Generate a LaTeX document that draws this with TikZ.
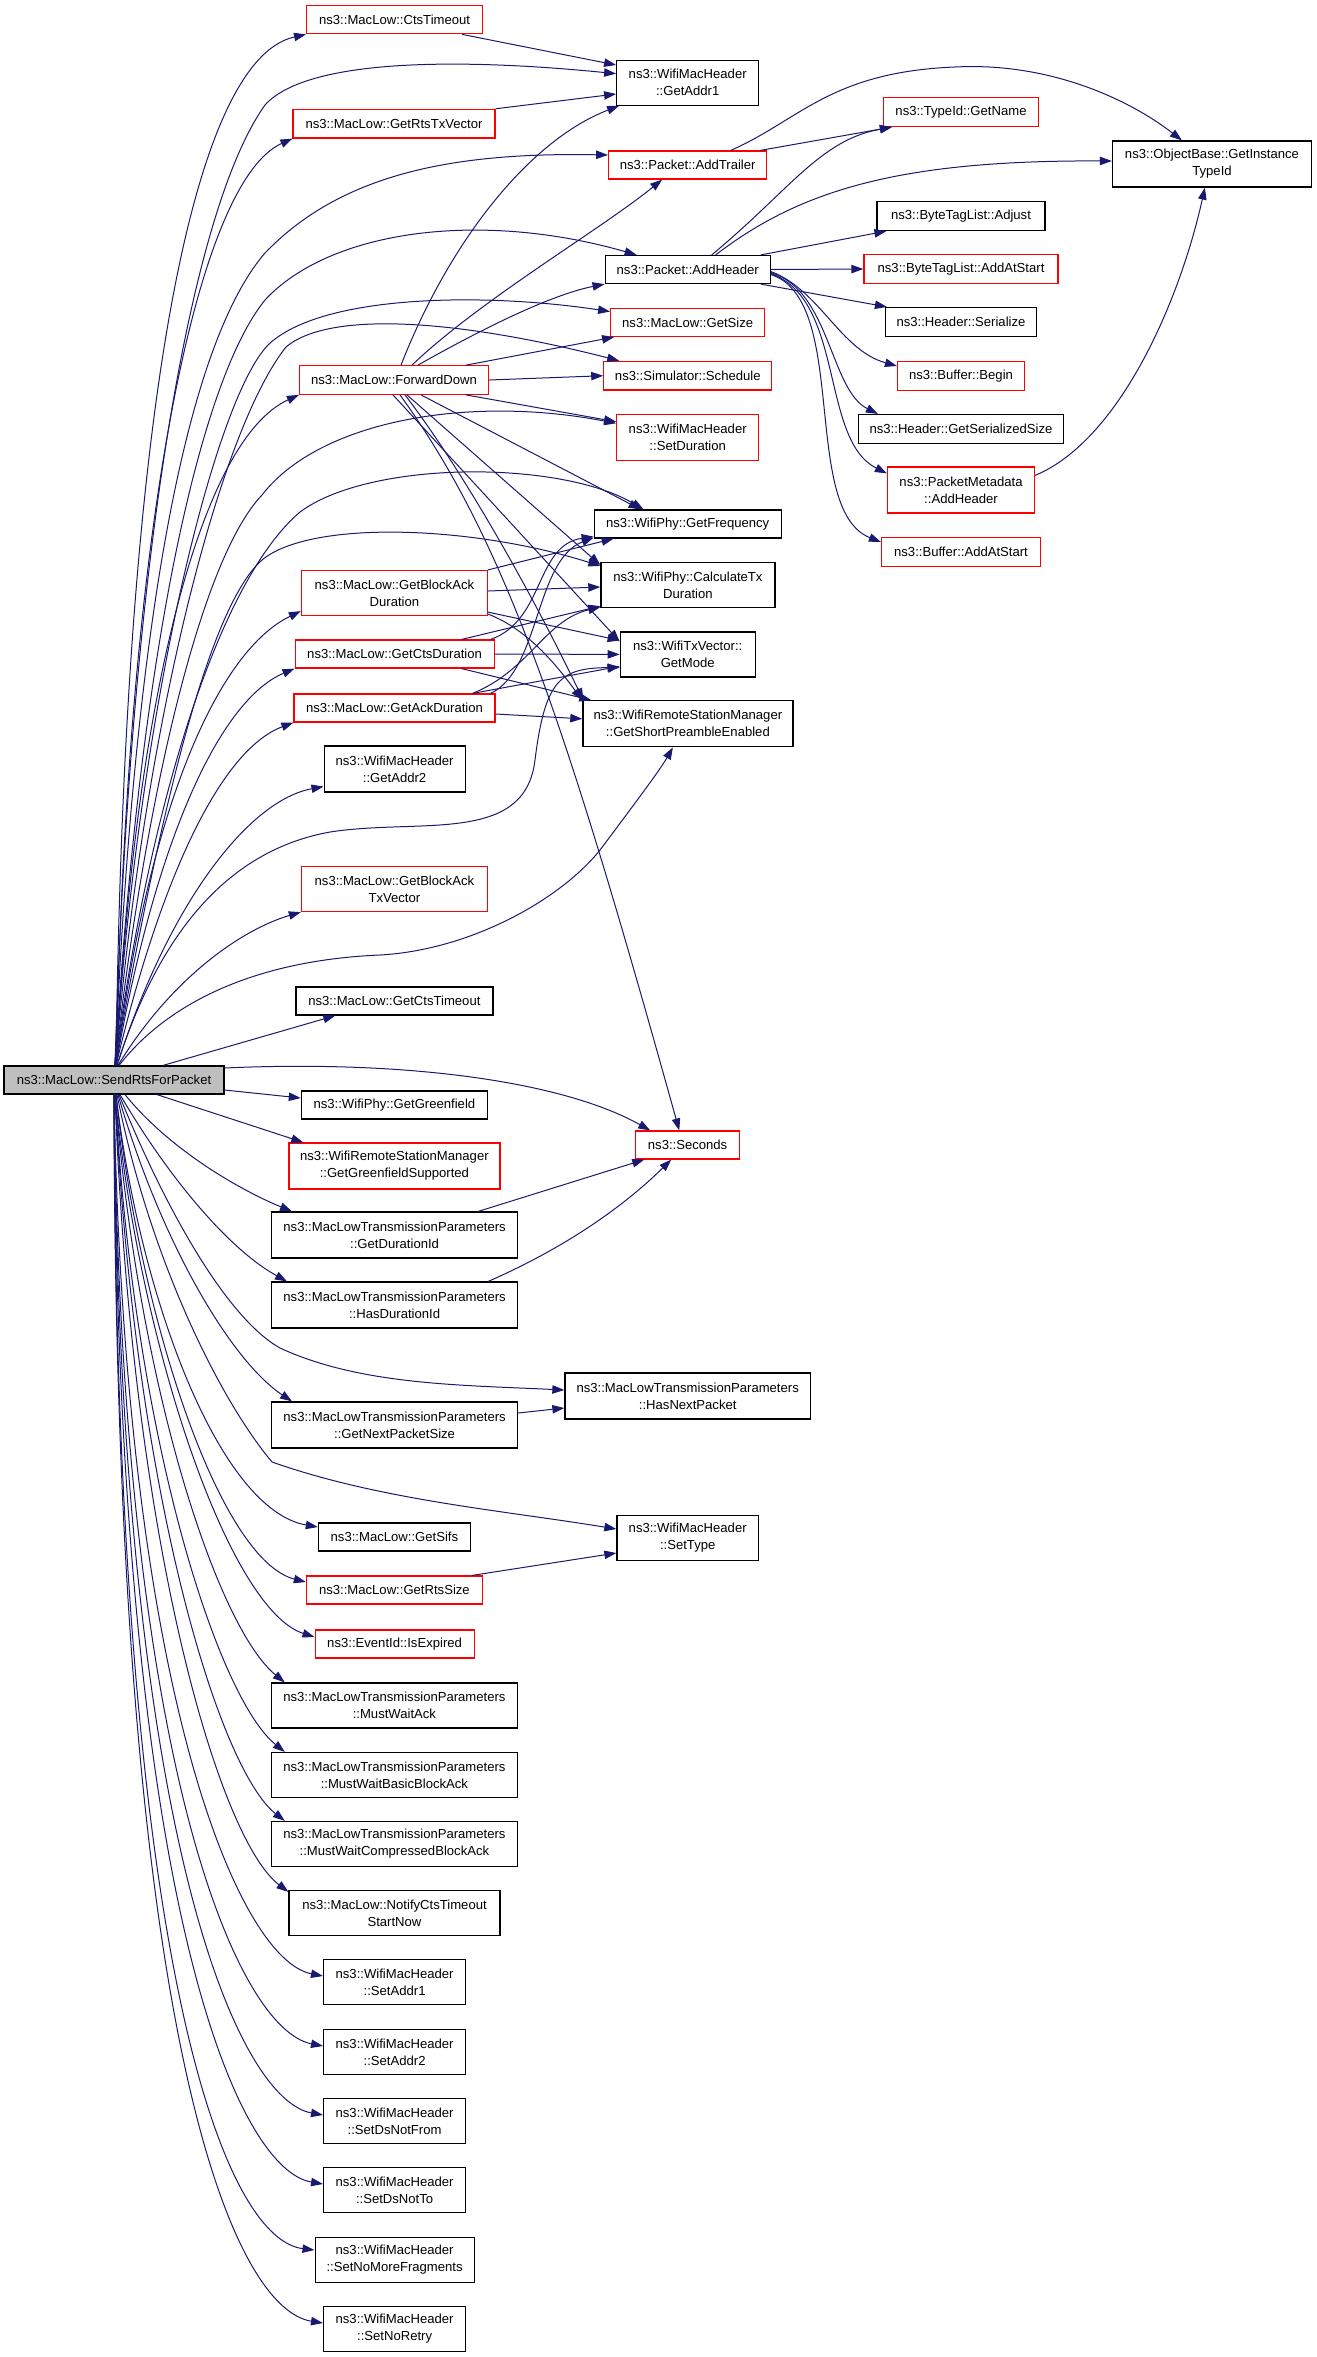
\documentclass[tikz,border=0pt]{standalone}
\usepackage{fontspec}
\setmainfont{Liberation Sans}
\usetikzlibrary{arrows.meta,calc}
\definecolor{edgeblue}{HTML}{191970}
\definecolor{rootgray}{HTML}{BFBFBF}
\begin{document}
\begin{tikzpicture}[x=0.5pt,y=-0.5pt,
  box/.style={draw=black,line width=0.6pt,fill=white,inner sep=0pt,align=center,font=\fontsize{6.55pt}{8.5pt}\selectfont},
  rbox/.style={box,draw=red},
  sz/.style 2 args={minimum width={#1*0.5pt},minimum height={#2*0.5pt}},
  edge/.style={draw=edgeblue,line width=0.5pt,-{Triangle[length=6pt,width=4.2pt]}}]
\useasboundingbox (0,0) rectangle (1317,2357);
% ---- root
\node[box,fill=rootgray,sz={220}{28}] (R) at (114,1080) {ns3::MacLow::SendRtsForPacket};
% ---- column 2
\node[rbox,sz={176}{28}] (ctsto) at (394.6,19.8) {ns3::MacLow::CtsTimeout};
\node[rbox,sz={202}{28.7}] (rtstx) at (394,123.7) {ns3::MacLow::GetRtsTxVector};
\node[rbox,sz={189}{28.6}] (fwd) at (394,380) {ns3::MacLow::ForwardDown};
\node[rbox,sz={186}{45}] (baDur) at (394.4,593) {ns3::MacLow::GetBlockAck\\Duration};
\node[rbox,sz={199}{28}] (ctsDur) at (394.6,654) {ns3::MacLow::GetCtsDuration};
\node[rbox,sz={201}{28}] (ackDur) at (394.5,708) {ns3::MacLow::GetAckDuration};
\node[box,sz={141}{46}] (addr2) at (394.6,769) {ns3::WifiMacHeader\\::GetAddr2};
\node[rbox,sz={186}{45}] (baTx) at (394.4,889) {ns3::MacLow::GetBlockAck\\TxVector};
\node[box,sz={197}{28}] (ctsTo2) at (394.4,1001) {ns3::MacLow::GetCtsTimeout};
\node[box,sz={186}{28}] (green) at (394.4,1105) {ns3::WifiPhy::GetGreenfield};
\node[rbox,sz={211}{46}] (greenSup) at (394.4,1166) {ns3::WifiRemoteStationManager\\::GetGreenfieldSupported};
\node[box,sz={246}{46}] (durId) at (394.6,1235) {ns3::MacLowTransmissionParameters\\::GetDurationId};
\node[box,sz={246}{46}] (hasDur) at (394.6,1305) {ns3::MacLowTransmissionParameters\\::HasDurationId};
\node[box,sz={246}{46}] (nextSize) at (394.6,1425) {ns3::MacLowTransmissionParameters\\::GetNextPacketSize};
\node[box,sz={152}{28}] (sifs) at (394.4,1537) {ns3::MacLow::GetSifs};
\node[rbox,sz={176}{28}] (rtsSize) at (394.4,1590) {ns3::MacLow::GetRtsSize};
\node[rbox,sz={159}{28}] (expired) at (394.6,1644) {ns3::EventId::IsExpired};
\node[box,sz={246}{45}] (mwAck) at (394.4,1705.5) {ns3::MacLowTransmissionParameters\\::MustWaitAck};
\node[box,sz={246}{45}] (mwBasic) at (394.4,1775) {ns3::MacLowTransmissionParameters\\::MustWaitBasicBlockAck};
\node[box,sz={246}{45}] (mwComp) at (394.4,1844) {ns3::MacLowTransmissionParameters\\::MustWaitCompressedBlockAck};
\node[box,sz={211}{45}] (notify) at (394.5,1913) {ns3::MacLow::NotifyCtsTimeout\\StartNow};
\node[box,sz={142}{45}] (setA1) at (394.6,1982) {ns3::WifiMacHeader\\::SetAddr1};
\node[box,sz={142}{45}] (setA2) at (394.6,2052) {ns3::WifiMacHeader\\::SetAddr2};
\node[box,sz={142}{45}] (setDsFrom) at (394.6,2121) {ns3::WifiMacHeader\\::SetDsNotFrom};
\node[box,sz={142}{45}] (setDsTo) at (394.6,2190) {ns3::WifiMacHeader\\::SetDsNotTo};
\node[box,sz={159}{45}] (setNoMore) at (394.6,2260) {ns3::WifiMacHeader\\::SetNoMoreFragments};
\node[box,sz={142}{45}] (setNoRetry) at (394.6,2329) {ns3::WifiMacHeader\\::SetNoRetry};
% ---- column 3
\node[box,sz={142}{45}] (getAddr1) at (687.7,82.7) {ns3::WifiMacHeader\\::GetAddr1};
\node[rbox,sz={158}{28}] (addTrailer) at (687.7,165) {ns3::Packet::AddTrailer};
\node[box,sz={165}{28}] (addHeader) at (687.7,269.5) {ns3::Packet::AddHeader};
\node[rbox,sz={154}{28}] (getSize) at (687.7,322.5) {ns3::MacLow::GetSize};
\node[rbox,sz={168}{28.7}] (schedule) at (687.8,375.7) {ns3::Simulator::Schedule};
\node[rbox,sz={142}{46}] (setDur) at (687.7,437.3) {ns3::WifiMacHeader\\::SetDuration};
\node[box,sz={187}{28}] (getFreq) at (687.7,524) {ns3::WifiPhy::GetFrequency};
\node[box,sz={174}{45}] (calcTx) at (687.9,585) {ns3::WifiPhy::CalculateTx\\Duration};
\node[box,sz={135}{45}] (getMode) at (687.7,654.4) {ns3::WifiTxVector::\\GetMode};
\node[box,sz={210}{46}] (shortPre) at (687.9,723.8) {ns3::WifiRemoteStationManager\\::GetShortPreambleEnabled};
\node[rbox,sz={103.5}{28}] (seconds) at (687.6,1145) {ns3::Seconds};
\node[box,sz={245.5}{46}] (hasNext) at (687.7,1396) {ns3::MacLowTransmissionParameters\\::HasNextPacket};
\node[box,sz={141.5}{45.5}] (setType) at (687.7,1538) {ns3::WifiMacHeader\\::SetType};
% ---- column 4
\node[rbox,sz={155}{29}] (getName) at (961,112) {ns3::TypeId::GetName};
\node[box,sz={168}{29}] (adjust) at (961,216) {ns3::ByteTagList::Adjust};
\node[rbox,sz={194}{29}] (bAddAtStart) at (961,269) {ns3::ByteTagList::AddAtStart};
\node[box,sz={151}{29}] (serialize) at (961,322) {ns3::Header::Serialize};
\node[rbox,sz={127}{29}] (begin) at (961,376) {ns3::Buffer::Begin};
\node[box,sz={205}{29}] (gss) at (961,429) {ns3::Header::GetSerializedSize};
\node[rbox,sz={147}{46}] (pmAdd) at (961,490) {ns3::PacketMetadata\\::AddHeader};
\node[rbox,sz={159}{29}] (bufAdd) at (961,552) {ns3::Buffer::AddAtStart};
% ---- column 5
\node[box,sz={199}{46}] (objBase) at (1212,164) {ns3::ObjectBase::GetInstance\\TypeId};

% ---- edges from root, upward
\draw[edge] ($(R.north)+(2,0)$) .. controls (124,420) and (190,60) .. (ctsto.south west);
\draw[edge] ($(R.north)+(1,0)$) .. controls (130,560) and (190,210) .. (265,105) .. controls (310,55) and (480,60) .. ($(getAddr1.west)+(0,-9)$);
\draw[edge] ($(R.north)+(2,0)$) .. controls (128,500) and (200,180) .. (rtstx.south west);
\draw[edge] ($(R.north)+(1,0)$) .. controls (135,600) and (190,340) .. (265,253) .. controls (340,175) and (450,152) .. ($(addTrailer.west)+(0,-10)$);
\draw[edge] ($(R.north)+(1,0)$) .. controls (140,650) and (200,380) .. (265,300) .. controls (330,230) and (480,210) .. ($(addHeader.north west)+(32,0)$);
\draw[edge] ($(R.north)+(1,0)$) .. controls (140,700) and (215,400) .. (268,345) .. controls (320,295) and (480,292) .. ($(getSize.west)+(0,-11)$);
\draw[edge] ($(R.north)+(1,0)$) .. controls (145,720) and (220,430) .. (286,347) .. controls (330,310) and (460,320) .. ($(schedule.north west)+(16,0)$);
\draw[edge] ($(R.north)+(2,0)$) .. controls (135,700) and (200,440) .. (fwd.south west);
\draw[edge] ($(R.north)+(1,0)$) .. controls (145,800) and (200,560) .. (262,495) .. controls (320,420) and (470,395) .. ($(setDur.west)+(0,-14)$);
\draw[edge] ($(R.north)+(1,0)$) .. controls (150,800) and (220,580) .. (300,512) .. controls (370,460) and (560,460) .. ($(getFreq.north west)+(50,0)$);
\draw[edge] ($(R.north)+(1,0)$) .. controls (155,840) and (205,610) .. (262,560) .. controls (310,520) and (470,525) .. ($(calcTx.north west)+(0,4)$);
\draw[edge] ($(R.north)+(2,0)$) .. controls (150,800) and (220,650) .. ($(baDur.south west)+(0,-5)$);
\draw[edge] ($(R.north)+(2,0)$) .. controls (155,840) and (220,700) .. (ctsDur.south west);
\draw[edge] ($(R.north)+(2,0)$) .. controls (160,880) and (220,750) .. (ackDur.south west);
\draw[edge] ($(R.north)+(3,0)$) .. controls (170,900) and (250,800) .. ($(addr2.south west)+(0,-6)$);
\draw[edge] ($(R.north)+(3,0)$) .. controls (160,930) and (230,850) .. (330,832) .. controls (420,818) and (525,845) .. (535,760) .. controls (545,680) and (560,668) .. ($(getMode.south west)+(0,-10)$);
\draw[edge] ($(R.north)+(4,0)$) .. controls (170,980) and (240,930) .. (baTx.south west);
\draw[edge] ($(R.north)+(5,0)$) .. controls (170,1000) and (260,960) .. (380,955) .. controls (470,950) and (560,900) .. (600,850) .. controls (630,810) and (660,770) .. ($(shortPre.south)+(-15,0)$);
\draw[edge] ($(R.north)+(49,0)$) -- ($(ctsTo2.south west)+(40,0)$);
% ---- edges from root, rightward and downward
\draw[edge] ($(R.east)+(0,-12)$) .. controls (400,1060) and (560,1080) .. ($(seconds.north west)+(15,0)$);
\draw[edge] ($(R.east)+(0,10)$) -- ($(green.west)+(0,-7)$);
\draw[edge] ($(R.south)+(43,0)$) -- ($(greenSup.north west)+(15,0)$);
\draw[edge] ($(R.south)+(11,0)$) .. controls (170,1150) and (240,1190) .. ($(durId.north west)+(21,0)$);
\draw[edge] ($(R.south)+(6,0)$) .. controls (170,1180) and (230,1250) .. ($(hasDur.north west)+(16,0)$);
\draw[edge] ($(R.south)+(5,0)$) .. controls (170,1220) and (230,1320) .. (280,1348) .. controls (360,1385) and (460,1385) .. ($(hasNext.west)+(0,-6)$);
\draw[edge] ($(R.south)+(4,0)$) .. controls (160,1240) and (230,1360) .. ($(nextSize.north west)+(21,0)$);
\draw[edge] ($(R.south)+(3,0)$) .. controls (150,1260) and (220,1400) .. (272,1462) .. controls (380,1500) and (500,1510) .. ($(setType.west)+(0,-9)$);
\draw[edge] ($(R.south)+(2,0)$) .. controls (140,1300) and (220,1510) .. ($(sifs.west)+(0,-10)$);
\draw[edge] ($(R.south)+(2,0)$) .. controls (140,1320) and (220,1560) .. ($(rtsSize.west)+(0,-8)$);
\draw[edge] ($(R.south)+(1,0)$) .. controls (140,1350) and (230,1610) .. ($(expired.west)+(0,-7)$);
\draw[edge] ($(R.south)+(1,0)$) .. controls (140,1400) and (220,1630) .. ($(mwAck.north west)+(14,0)$);
\draw[edge] ($(R.south)+(1,0)$) .. controls (135,1450) and (220,1700) .. ($(mwBasic.north west)+(14,0)$);
\draw[edge] ($(R.south)+(1,0)$) .. controls (135,1500) and (220,1770) .. ($(mwComp.north west)+(14,0)$);
\draw[edge] ($(R.south)+(1,0)$) .. controls (132,1550) and (220,1840) .. ($(notify.north west)+(0,2)$);
\draw[edge] ($(R.south)+(0,0)$) .. controls (125,1700) and (240,1960) .. ($(setA1.west)+(0,-6)$);
\draw[edge] ($(R.south)+(0,0)$) .. controls (122,1780) and (240,2030) .. ($(setA2.west)+(0,-6)$);
\draw[edge] ($(R.south)+(0,0)$) .. controls (120,1850) and (240,2100) .. ($(setDsFrom.west)+(0,-6)$);
\draw[edge] ($(R.south)+(0,0)$) .. controls (118,1920) and (240,2170) .. ($(setDsTo.west)+(0,-6)$);
\draw[edge] ($(R.south)+(0,0)$) .. controls (116,2000) and (230,2240) .. ($(setNoMore.west)+(0,-10)$);
\draw[edge] ($(R.south)+(0,0)$) .. controls (115,2080) and (240,2310) .. ($(setNoRetry.west)+(0,-6)$);
% ---- other edges
\draw[edge] ($(ctsto.south east)+(-21,0)$) -- ($(getAddr1.west)+(0,-17.7)$);
\draw[edge] (rtstx.north east) -- ($(getAddr1.west)+(0,11.3)$);
\draw[edge] ($(fwd.north)+(7,0)$) .. controls (450,240) and (530,140) .. ($(getAddr1.south west)+(3,0)$);
\draw[edge] ($(fwd.north)+(18,0)$) .. controls (480,300) and (600,230) .. ($(addTrailer.south west)+(54,0)$);
\draw[edge] ($(fwd.north)+(24,0)$) .. controls (480,330) and (550,295) .. (addHeader.south west);
\draw[edge] ($(fwd.north east)+(-23,0)$) -- ($(getSize.south west)+(4,0)$);
\draw[edge] (fwd.east) -- (schedule.west);
\draw[edge] ($(fwd.south east)+(-23,0)$) -- ($(setDur.west)+(0,-15.6)$);
\draw[edge] ($(fwd.south)+(27,0)$) -- ($(getFreq.north west)+(47,0)$);
\draw[edge] ($(fwd.south)+(13,0)$) -- ($(calcTx.north west)+(0,3)$);
\draw[edge] ($(fwd.south)+(-1,0)$) -- ($(getMode.west)+(0,-13)$);
\draw[edge] ($(fwd.south)+(11,0)$) .. controls (470,480) and (540,610) .. ($(shortPre.north west)+(1,0)$);
\draw[edge] ($(fwd.south)+(6,0)$) .. controls (505,540) and (565,720) .. ($(seconds.north west)+(44,0)$);
\draw[edge] (baDur.north east) -- ($(getFreq.south west)+(20,0)$);
\draw[edge] ($(baDur.east)+(0,-2)$) -- ($(calcTx.west)+(0,2)$);
\draw[edge] ($(baDur.south east)+(0,-4)$) -- ($(getMode.west)+(0,-14)$);
\draw[edge] ($(baDur.south east)+(0,-2)$) .. controls (530,630) and (560,670) .. (shortPre.north west);
\draw[edge] ($(ctsDur.north east)+(-4,0)$) .. controls (545,620) and (535,545) .. ($(getFreq.south west)+(0,-2)$);
\draw[edge] ($(ctsDur.north east)+(-33,0)$) -- ($(calcTx.south west)+(0,-2)$);
\draw[edge] (ctsDur.east) -- (getMode.west);
\draw[edge] ($(ctsDur.south east)+(-33,0)$) -- ($(shortPre.north west)+(9,0)$);
\draw[edge] ($(ackDur.north east)+(-5,0)$) .. controls (540,670) and (535,560) .. ($(getFreq.south west)+(0,-1)$);
\draw[edge] ($(ackDur.north east)+(-23,0)$) .. controls (530,670) and (545,620) .. ($(calcTx.south west)+(0,-1)$);
\draw[edge] ($(ackDur.north east)+(-23,0)$) -- ($(getMode.west)+(0,12)$);
\draw[edge] ($(ackDur.east)+(0,6)$) -- ($(shortPre.west)+(0,-5)$);
\draw[edge] ($(durId.north east)+(-40,0)$) -- ($(seconds.south west)+(9,0)$);
\draw[edge] ($(hasDur.north east)+(-30,0)$) .. controls (560,1250) and (620,1210) .. ($(seconds.south west)+(36,0)$);
\draw[edge] ($(nextSize.east)+(0,-12)$) -- ($(hasNext.west)+(0,12)$);
\draw[edge] ($(rtsSize.north east)+(-11,0)$) -- ($(setType.west)+(0,15)$);
\draw[edge] ($(addTrailer.north east)+(-7,0)$) -- ($(getName.south west)+(9,0)$);
\draw[edge] ($(addTrailer.north)+(43,0)$) .. controls (800,120) and (830,72) .. (955,67) .. controls (1050,62) and (1130,100) .. ($(objBase.north west)+(70,0)$);
\draw[edge] ($(addHeader.north)+(24,0)$) .. controls (790,190) and (820,140) .. ($(getName.south west)+(9,0)$);
\draw[edge] ($(addHeader.north)+(28,0)$) .. controls (800,190) and (900,160) .. ($(objBase.west)+(0,-3)$);
\draw[edge] ($(addHeader.north east)+(-10,0)$) -- ($(adjust.south west)+(10,0)$);
\draw[edge] (addHeader.east) -- (bAddAtStart.west);
\draw[edge] ($(addHeader.south east)+(-10,0)$) -- ($(serialize.north west)+(2,0)$);
\draw[edge] ($(addHeader.east)+(0,2)$) .. controls (820,290) and (840,350) .. ($(begin.west)+(0,-10)$);
\draw[edge] ($(addHeader.east)+(0,3)$) .. controls (830,290) and (830,390) .. ($(gss.north west)+(20,0)$);
\draw[edge] ($(addHeader.east)+(0,4)$) .. controls (845,300) and (820,440) .. ($(pmAdd.north west)+(0,7)$);
\draw[edge] ($(addHeader.east)+(0,5)$) .. controls (850,300) and (800,510) .. ($(bufAdd.west)+(0,-10)$);
\draw[edge] ($(pmAdd.north east)+(0,9)$) .. controls (1120,440) and (1180,300) .. ($(objBase.south west)+(93,0)$);
\end{tikzpicture}
\end{document}
